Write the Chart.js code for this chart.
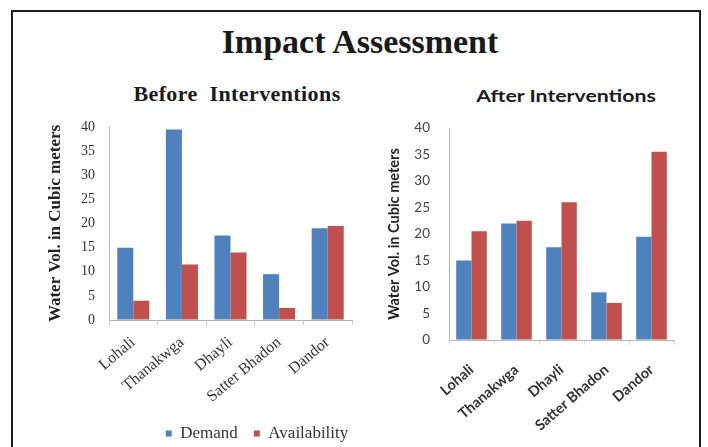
<!DOCTYPE html>
<html>
<head>
<meta charset="utf-8">
<script src="https://cdn.jsdelivr.net/npm/chart.js@4.4.0/dist/chart.umd.min.js"></script>
<style>
  html, body { margin: 0; padding: 0; background: #fff; }
  body { width: 708px; height: 447px; overflow: hidden; position: relative; }
  #frame { position: absolute; left: 11px; top: 10px; width: 686px; height: 445px;
           border: 2px solid #1e1e1e; border-bottom: none; }
  .t { position: absolute; white-space: nowrap; color: #1a1a1a; line-height: 1;
       transform: translateX(-50%); transform-origin: 0 0; }
  #mainTitle { left: 360px; top: 23px; font: bold 34px "Liberation Serif", serif; }
  #beforeTitle { left: 237px; top: 81px; font: bold 22px "Liberation Serif", serif; letter-spacing: 0.4px; }
  #afterTitle { left: 566px; top: 85px; font: bold 17px Lato, sans-serif;
                transform: scaleX(1.25) translateX(-50%); }
  canvas { position: absolute; }
  #beforeChart { left: 30px; top: 110px; }
  #afterChart { left: 376px; top: 110px; }
</style>
</head>
<body>
<div id="frame"></div>
<div class="t" id="mainTitle">Impact Assessment</div>
<div class="t" id="beforeTitle">Before&nbsp; Interventions</div>
<div class="t" id="afterTitle">After Interventions</div>
<canvas id="beforeChart" width="439" height="342"></canvas>
<canvas id="afterChart" width="330" height="337"></canvas>
<script>
// Villages surveyed
const categories = ['Lohali', 'Thanakwga', 'Dhayli', 'Satter Bhadon', 'Dandor'];

// Water volume (cubic meters) before interventions
const beforeDemand = [15, 39.5, 17.5, 9.5, 19];
const beforeAvailability = [4, 11.5, 14, 2.5, 19.5];

// Water volume (cubic meters) after interventions
const afterDemand = [15, 22, 17.5, 9, 19.5];
const afterAvailability = [20.5, 22.5, 26, 7, 35.5];

// Value axis range
const yMin = 0;
const yMax = 40;
const yStep = 5;

const seriesNames = ['Demand', 'Availability'];
const axisTitle = 'Water Vol. in Cubic meters';

const BLUE = '#4F81BD';
const RED = '#C0504D';
const AXIS = '#b4b4b4';
const CLEAR = 'rgba(0,0,0,0)';
const SERIF = '"Liberation Serif", serif';
const SANS = 'Lato, sans-serif';

function datasets(demand, availability) {
  return [
    { label: seriesNames[0], data: demand, backgroundColor: BLUE, borderWidth: 0 },
    { label: seriesNames[1], data: availability, backgroundColor: RED, borderWidth: 0 }
  ];
}

// Left panel: plot bottom 210px below the canvas top, legend underneath.
// An empty right-hand axis reserves space so the legend centres under both panels' gap.
new Chart(document.getElementById('beforeChart'), {
  type: 'bar',
  data: { labels: categories, datasets: datasets(beforeDemand, beforeAvailability) },
  options: {
    responsive: false,
    animation: false,
    layout: { padding: { left: 15, right: 0, top: 17, bottom: 0 } },
    datasets: { bar: { categoryPercentage: 0.66, barPercentage: 1 } },
    plugins: {
      tooltip: { enabled: false },
      legend: {
        position: 'bottom',
        labels: {
          boxWidth: 6, boxHeight: 6, padding: 16, color: '#333',
          font: { family: SERIF, size: 17 }
        }
      }
    },
    scales: {
      x: {
        grid: { display: true, drawOnChartArea: false, drawTicks: true, tickLength: 5, color: '#d0d0d0' },
        border: { color: AXIS },
        ticks: {
          autoSkip: false, minRotation: 40, maxRotation: 40, padding: 8,
          color: '#333', font: { family: SERIF, size: 16 }
        },
        afterFit(axis) { axis.height = axis.chart.height - axis.chart.legend.height - 210; }
      },
      y: {
        min: yMin, max: yMax,
        grid: { display: true, drawOnChartArea: false, drawTicks: true, tickLength: 14, tickColor: CLEAR },
        border: { color: AXIS },
        ticks: { stepSize: yStep, padding: 0, color: '#333', font: { family: SERIF, size: 14 } },
        title: {
          display: true, text: axisTitle, color: '#222', padding: 0,
          font: { family: SERIF, size: 17, weight: 'bold' }
        },
        afterFit(axis) { axis.width = 64; }
      },
      spacer: {
        type: 'linear', position: 'right', display: true,
        grid: { display: false }, border: { display: false }, ticks: { display: false },
        afterFit(axis) { axis.width = 117; }
      }
    }
  }
});

// Right panel: same series after interventions, no legend
new Chart(document.getElementById('afterChart'), {
  type: 'bar',
  data: { labels: categories, datasets: datasets(afterDemand, afterAvailability) },
  options: {
    responsive: false,
    animation: false,
    layout: { padding: { left: 10, right: 32, top: 18, bottom: 0 } },
    datasets: { bar: { categoryPercentage: 0.68, barPercentage: 1 } },
    plugins: { tooltip: { enabled: false }, legend: { display: false } },
    scales: {
      x: {
        grid: { display: true, drawOnChartArea: false, drawTicks: true, tickLength: 5, color: '#cfe3ea' },
        border: { color: AXIS },
        ticks: {
          autoSkip: false, minRotation: 41, maxRotation: 41, padding: 16,
          color: '#333', font: { family: SANS, size: 14.5, weight: 'bold' }
        },
        afterFit(axis) { axis.height = 107; }
      },
      y: {
        min: yMin, max: yMax,
        grid: { display: true, drawOnChartArea: false, drawTicks: true, tickLength: 19, tickColor: CLEAR },
        border: { color: AXIS },
        ticks: { stepSize: yStep, padding: 0, color: '#444', font: { family: SANS, size: 13.5 } },
        title: {
          display: true, text: axisTitle, color: '#222', padding: 0,
          font: { family: SANS, size: 14.5, weight: 'bold' }
        },
        afterFit(axis) { axis.width = 63; }
      }
    }
  }
});
</script>
</body>
</html>
